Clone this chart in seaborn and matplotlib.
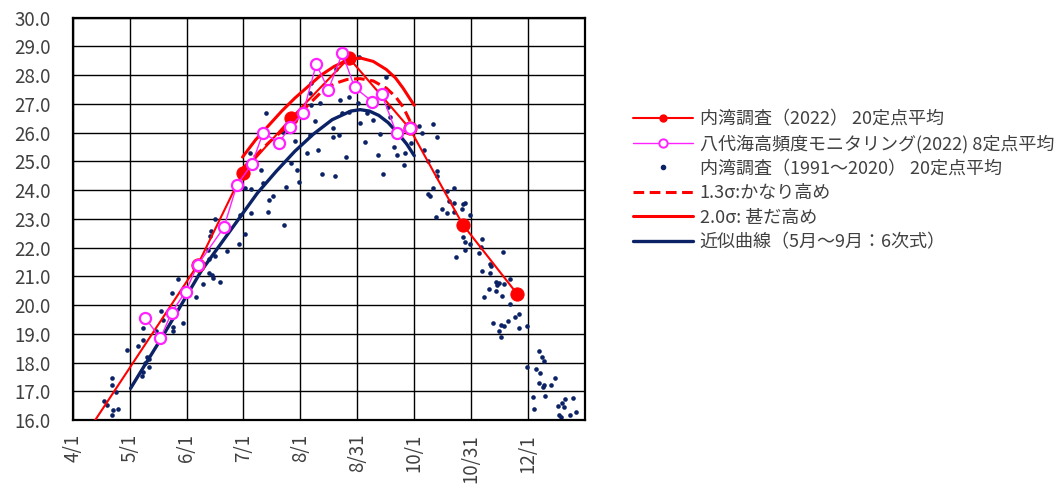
import matplotlib
matplotlib.use("Agg")
import matplotlib.pyplot as plt
from matplotlib.lines import Line2D
import seaborn as sns
import pandas as pd
import numpy as np

# ---------------- data (x = day of year, 2022) ----------------
tick_pos = [91, 121.5, 152, 182.5, 213, 243.5, 274, 304.5, 335, 365.5]
tick_labels = ["4/1", "5/1", "6/1", "7/1", "8/1", "8/31", "10/1", "10/31", "12/1", ""]
y_ticks = [16, 17, 18, 19, 20, 21, 22, 23, 24, 25, 26, 27, 28, 29, 30]

# 内湾調査（2022） 20定点平均
bay2022_day = [98, 158, 182, 208, 239, 271.5, 300, 329]
bay2022_val = [15.5, 21.4, 24.6, 26.5, 28.6, 26.15, 22.8, 20.4]

# 八代海高頻度モニタリング(2022) 8定点平均
yatsu_day = [130, 138, 144, 151.5, 158, 172, 179, 187, 193, 201.5, 207.5, 214.5,
             221.5, 228, 235.5, 242, 251.5, 256.5, 264.5, 271.5]
yatsu_val = [19.54, 18.84, 19.74, 20.47, 21.4, 22.7, 24.18, 24.9, 26.0, 25.65, 26.2, 26.7,
             28.38, 27.5, 28.76, 27.58, 27.08, 27.35, 25.98, 26.15]

# 内湾調査（1991～2020） 20定点平均
hist_day = [
    107.7, 109.2, 111.9, 112.2, 112.4, 112.0, 114.2, 115.4, 120.2, 126.1, 127.9, 128.5,
    128.8, 128.8, 129.7, 130.6, 132.0, 132.0, 135.6, 137.3, 138.2, 139.5, 144.0, 144.5,
    144.5, 147.5, 150.2, 157.3, 160.9,
    163.6, 164.1, 164.1, 164.8, 165.0, 165.6, 166.4, 167.1, 167.1, 169.8, 173.7, 180.1,
    180.5, 183.2,
    183.2, 185.8, 186.8, 186.8, 192.1, 192.7, 194.4, 195.7, 196.2, 198.3, 203.7, 204.1,
    205.1, 208.0, 210.0, 211.0, 212.2, 216.4, 220.6, 222.2,
    218.9, 218.0, 218.9, 218.0, 223.3, 224.5, 230.4, 230.4, 231.3, 232.2, 233.6, 234.0,
    235.5, 237.2, 239.0, 239.0, 243.8, 244.4, 244.7, 247.4, 248.6, 251.8, 254.5, 255.4,
    257.2, 259.0, 259.9, 260.8, 262.9, 264.7, 268.5,
    269.3, 272.4, 276.8, 278.3, 279.5, 281.3, 281.3, 282.5, 284.0, 284.0, 285.4, 286.1,
    286.1, 286.1, 289.0, 291.6, 291.6, 292.5, 295.2, 295.2, 295.5, 296.4, 299.7, 300.0,
    300.0, 301.4, 301.4, 301.4, 303.9, 304.1, 308.6, 309.8, 310.4, 310.4, 311.6, 314.1,
    314.6, 314.6, 315.2, 316.4, 317.8, 317.8, 318.2, 319.3, 319.6, 320.5, 320.5, 321.1,
    321.4, 322.3, 322.3, 324.1, 325.3, 325.3, 328.2, 330.0, 330.3, 334.2,
    334.2, 337.4, 338.4, 339.3, 341.0, 341.0, 341.4, 342.5, 343.2, 343.7, 343.7, 344.2,
    347.3, 349.6, 350.8, 351.7, 352.6, 353.2, 354.4, 354.9, 357.5, 359.2, 360.7,
]
hist_val = [
    16.67, 16.52, 17.22, 17.47, 16.35, 16.18, 16.99, 16.37, 18.44, 18.58, 17.53, 19.19,
    18.79, 17.68, 17.97, 18.20, 18.11, 17.84, 19.11, 18.79, 19.81, 19.48, 20.41, 19.23,
    19.11, 20.90, 19.37, 20.27, 20.72,
    21.92, 21.59, 21.10, 22.40, 22.59, 21.05, 20.95, 22.98, 21.71, 20.81, 21.88, 22.13,
    23.13, 22.46,
    24.06, 25.28, 24.03, 23.19, 24.70, 24.24, 26.69, 23.25, 23.66, 23.80, 26.03, 22.79,
    24.10, 24.95, 25.70, 24.71, 24.28, 25.30, 26.42, 25.40,
    27.72, 27.39, 26.96, 25.92, 27.02, 24.56, 26.15, 25.86, 24.49, 28.20, 25.92, 27.14,
    26.69, 25.14, 27.23, 26.73, 27.04, 28.62, 26.33, 25.69, 26.69, 26.44, 25.22, 25.95,
    24.56, 27.95, 26.90, 26.53, 25.51, 25.22, 24.88,
    25.28, 25.65, 26.23, 26.00, 25.40, 25.02, 23.87, 23.80, 26.30, 24.06, 23.05, 25.84,
    24.68, 24.49, 23.35, 23.98, 23.21, 23.63, 24.06, 23.25, 23.56, 21.68, 23.33, 23.52,
    22.38, 23.54, 22.21, 21.92, 22.13, 23.13, 21.80, 22.03, 22.29, 21.20, 20.27, 20.55,
    21.43, 21.13, 21.36, 19.39, 20.81, 20.50, 20.70, 19.11, 20.78, 19.31, 18.90, 20.33,
    21.84, 20.73, 19.27, 19.45, 20.90, 20.04, 19.58, 19.19, 19.69, 19.27,
    17.84, 16.79, 16.37, 17.77, 18.41, 17.30, 17.65, 18.18, 17.14, 18.07, 17.22, 16.84,
    17.22, 17.45, 16.50, 16.18, 16.10, 16.58, 16.46, 16.72, 16.18, 16.76, 16.27,
]

# 近似曲線（5月～9月：6次式）
fit_day = [122, 130, 140, 150, 160, 170, 180, 190, 200, 210, 220, 230, 240, 245, 250,
           255, 260, 265, 270, 274]
fit_val = [17.1, 17.95, 19.0, 20.1, 21.2, 22.1, 23.0, 23.9, 24.65, 25.35, 25.95, 26.45,
           26.75, 26.8, 26.75, 26.6, 26.35, 26.0, 25.6, 25.2]

# 1.3σ: かなり高め
s13_day = [182, 189, 196, 203, 210, 217, 224, 231, 238, 245, 252, 259, 264, 268, 271, 274]
s13_val = [24.75, 25.2, 25.65, 26.05, 26.45, 26.95, 27.4, 27.7, 27.85, 27.88, 27.8, 27.55,
           27.25, 26.9, 26.5, 26.1]

# 2.0σ: 甚だ高め
s20_day = [182, 189, 196, 203, 210, 217, 224, 231, 238, 245, 252, 259, 264, 268, 271, 274]
s20_val = [25.15, 25.75, 26.25, 26.75, 27.2, 27.6, 28.0, 28.3, 28.52, 28.6, 28.48, 28.2,
           27.9, 27.55, 27.25, 26.95]

labels = [
    "内湾調査（2022） 20定点平均",
    "八代海高頻度モニタリング(2022) 8定点平均",
    "内湾調査（1991～2020） 20定点平均",
    "1.3σ:かなり高め",
    "2.0σ: 甚だ高め",
    "近似曲線（5月～9月：6次式）",
]

# ---------------- styling ----------------
RED = "#ff0000"
MAG = "#ff22ff"
NAVY = "#0b2266"
TXT = "#404040"
DASH = (0, (3.5, 1.8))

sns.set_theme(style="white")
plt.rcParams["font.family"] = ["Noto Sans CJK JP", "DejaVu Sans"]

fig = plt.figure(figsize=(10.64, 4.95), dpi=100)
ax = fig.add_axes([72.7 / 1064, 1 - 420 / 495, (585 - 72.7) / 1064, (420 - 17.7) / 495])

df_hist = pd.DataFrame({"day": hist_day, "val": hist_val})
sns.scatterplot(data=df_hist, x="day", y="val", ax=ax, s=11, color=NAVY,
                edgecolor=NAVY, linewidth=0, zorder=2, legend=False)

df_fit = pd.DataFrame({"day": fit_day, "val": fit_val})
sns.lineplot(data=df_fit, x="day", y="val", ax=ax, color=NAVY, lw=2.4, zorder=3,
             sort=True, legend=False)

df13 = pd.DataFrame({"day": s13_day, "val": s13_val})
sns.lineplot(data=df13, x="day", y="val", ax=ax, color=RED, lw=2.2, zorder=4,
             linestyle=DASH, legend=False)

df20 = pd.DataFrame({"day": s20_day, "val": s20_val})
sns.lineplot(data=df20, x="day", y="val", ax=ax, color=RED, lw=2.2, zorder=4, legend=False)

df_bay = pd.DataFrame({"day": bay2022_day, "val": bay2022_val})
sns.lineplot(data=df_bay, x="day", y="val", ax=ax, color=RED, lw=1.5, zorder=5,
             marker="o", markersize=9.5, markeredgecolor=RED, markerfacecolor=RED,
             legend=False)

df_y = pd.DataFrame({"day": yatsu_day, "val": yatsu_val})
sns.lineplot(data=df_y, x="day", y="val", ax=ax, color=MAG, lw=1.0, zorder=6,
             marker="o", markersize=8, markeredgecolor=MAG, markerfacecolor="white",
             markeredgewidth=1.6, legend=False)

ax.set_xlim(tick_pos[0], tick_pos[-1])
ax.set_ylim(16, 30)
ax.set_xticks(tick_pos)
ax.set_xticklabels(tick_labels, rotation=90, fontsize=13.5, color=TXT)
ax.set_yticks(y_ticks)
ax.set_yticklabels([f"{v:.1f}" for v in y_ticks], fontsize=13.5, color=TXT)
ax.tick_params(axis="both", length=0)
ax.tick_params(axis="y", pad=16)
ax.tick_params(axis="x", pad=10)
ax.set_xlabel("")
ax.set_ylabel("")
ax.grid(True, color="black", lw=1.0)
ax.set_axisbelow(True)
for sp in ax.spines.values():
    sp.set_visible(True)
    sp.set_color("black")
    sp.set_linewidth(1.6)

handles = [
    Line2D([], [], color=RED, lw=1.5, marker="o", markersize=5, markerfacecolor=RED,
           markeredgecolor=RED),
    Line2D([], [], color=MAG, lw=1.0, marker="o", markersize=6, markerfacecolor="white",
           markeredgecolor=MAG, markeredgewidth=1.4),
    Line2D([], [], color=NAVY, lw=0, marker="o", markersize=3, markerfacecolor=NAVY,
           markeredgecolor=NAVY),
    Line2D([], [], color=RED, lw=2.2, linestyle=DASH),
    Line2D([], [], color=RED, lw=2.2),
    Line2D([], [], color=NAVY, lw=2.4),
]
leg = fig.legend(handles, labels, loc="upper left", bbox_to_anchor=(633 / 1064, 1 - 110 / 495),
                 frameon=False, fontsize=13, handlelength=3.3, handletextpad=0.4,
                 labelspacing=0.36, borderpad=0, borderaxespad=0)
for t in leg.get_texts():
    t.set_color(TXT)

fig.savefig("out.png", dpi=100)
